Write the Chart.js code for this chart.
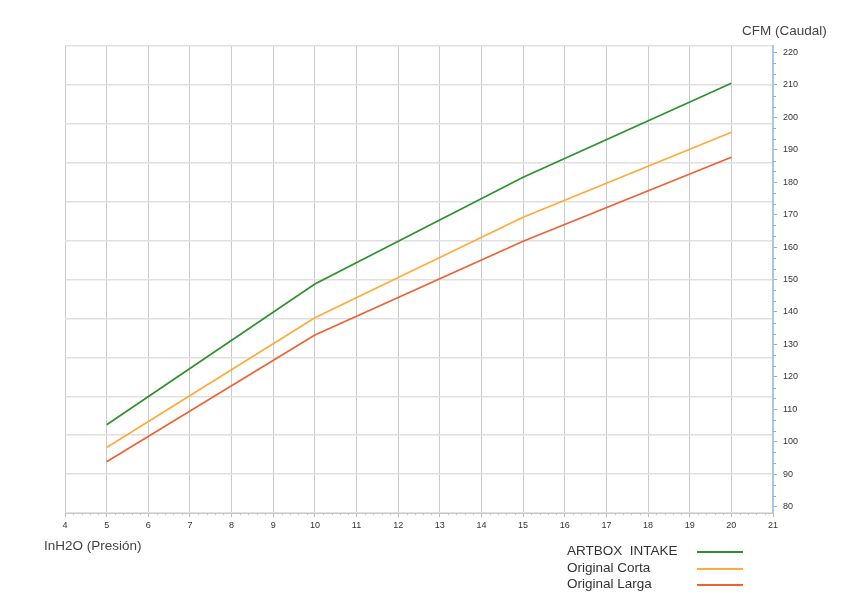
<!DOCTYPE html>
<html>
<head>
<meta charset="utf-8">
<script src="https://cdn.jsdelivr.net/npm/chart.js@4"></script>
<style>
  body { margin: 0; background: #fff; font-family: "Liberation Sans", Arial, sans-serif; }
  #wrap { position: relative; width: 858px; height: 611px; }
  .axis-title { position: absolute; font-size: 13.5px; color: #444; }
  #legend { position: absolute; left: 567px; top: 543px; font-size: 13.5px; color: #333; }
  #legend div { height: 16.5px; line-height: 16.5px; position: relative; white-space: pre; }
  #legend span.sw { position: absolute; left: 130px; top: 8px; width: 46px; height: 0; border-top: 2px solid; }
</style>
</head>
<body>
<div id="wrap">
  <canvas id="chart" width="858" height="611"></canvas>
  <div class="axis-title" style="left:742px; top:23px;">CFM (Caudal)</div>
  <div class="axis-title" style="left:44px; top:538px;">InH2O (Presión)</div>
  <div id="legend"></div>
</div>
<script>
const ctx = document.getElementById('chart');

var pressure = [5, 10, 15, 20];
var artbox = [105.2, 148.6, 181.5, 210.5];
var corta = [98.2, 138.2, 169.2, 195.4];
var larga = [93.8, 132.9, 161.8, 187.7];
var seriesNames = ['ARTBOX  INTAKE', 'Original Corta', 'Original Larga'];
var seriesColors = ['#2d922d', '#ffab3a', '#ec6236'];
var yTicks = [80, 90, 100, 110, 120, 130, 140, 150, 160, 170, 180, 190, 200, 210, 220];
var yGridLines = [78, 90, 102, 114, 126, 138, 150, 162, 174, 186, 198, 210, 222];
var xTicks = [4, 5, 6, 7, 8, 9, 10, 11, 12, 13, 14, 15, 16, 17, 18, 19, 20, 21];

function toPoints(vals) {
    return vals.map((v, i) => ({ x: pressure[i], y: v }));
}

var datasets = [artbox, corta, larga].map((vals, i) => ({
    label: seriesNames[i],
    data: toPoints(vals),
    borderColor: seriesColors[i],
    borderWidth: 1.7,
    pointRadius: 0,
    tension: 0,
    yAxisID: 'y'
}));

// html legend, text left and a line on the right
var legend = document.getElementById('legend');
datasets.forEach(ds => {
    var row = document.createElement('div');
    row.textContent = ds.label;
    var sw = document.createElement('span');
    sw.className = 'sw';
    sw.style.borderColor = ds.borderColor;
    row.appendChild(sw);
    legend.appendChild(row);
});

// small minor ticks on both axes
const minorTicks = {
    id: 'minorTicks',
    afterDraw(chart) {
        const c = chart.ctx, x = chart.scales.x, y = chart.scales.y;
        c.save();
        c.lineWidth = 1;
        c.strokeStyle = '#c4c4c4';
        for (let i = 0; i <= 85; i++) {
            if (i % 5 === 0) continue;
            const px = Math.round(x.getPixelForValue(4 + i / 5)) + 0.5;
            c.beginPath();
            c.moveTo(px, x.top);
            c.lineTo(px, x.top + 2);
            c.stroke();
        }
        c.strokeStyle = '#8fb0d0';
        for (let i = 0; i <= 42; i++) {
            if (i % 3 === 0) continue;
            const py = Math.round(y.getPixelForValue(80 + i * 10 / 3)) + 0.5;
            c.beginPath();
            c.moveTo(y.left, py);
            c.lineTo(y.left + 3, py);
            c.stroke();
        }
        c.restore();
    }
};

new Chart(ctx, {
    type: 'line',
    data: { datasets: datasets },
    plugins: [minorTicks],
    options: {
        responsive: false,
        animation: false,
        layout: { padding: { left: 65, top: 46, right: 0, bottom: 0 } },
        plugins: {
            legend: { display: false },
            tooltip: { enabled: false }
        },
        scales: {
            x: {
                type: 'linear',
                min: 4,
                max: 21,
                afterBuildTicks: s => { s.ticks = xTicks.map(v => ({ value: v })); },
                afterFit: s => { s.height = 98; },
                grid: { color: '#cacaca', tickLength: 4, tickColor: '#bbb' },
                border: { color: '#c8c8c8' },
                ticks: { color: '#333', font: { size: 9, family: 'Liberation Sans' }, padding: 3, maxRotation: 0 }
            },
            y: {
                type: 'linear',
                position: 'right',
                min: 78,
                max: 222,
                afterBuildTicks: s => { s.ticks = yTicks.map(v => ({ value: v })); },
                afterFit: s => { s.width = 85; },
                grid: { drawOnChartArea: false, tickLength: 4, tickColor: '#8fb0d0' },
                border: { color: '#a9c7e4', width: 2 },
                ticks: { color: '#333', font: { size: 9, family: 'Liberation Sans' }, padding: 6 }
            },
            yGrid: {
                type: 'linear',
                position: 'left',
                min: 78,
                max: 222,
                afterBuildTicks: s => { s.ticks = yGridLines.map(v => ({ value: v })); },
                afterFit: s => { s.width = 0; },
                grid: { color: '#e0e0e0', lineWidth: 1.5, drawTicks: false },
                border: { display: false },
                ticks: { display: false }
            }
        }
    }
});
</script>
</body>
</html>
